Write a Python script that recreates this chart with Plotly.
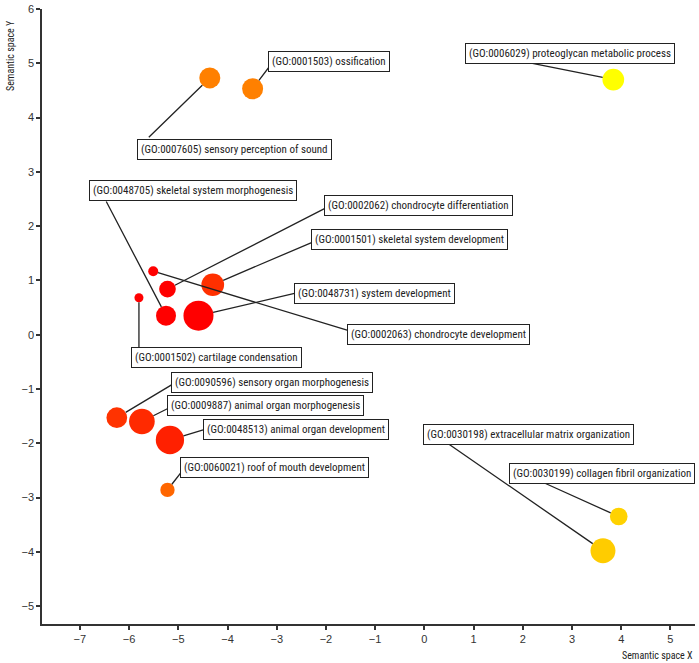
import plotly.graph_objects as go

# ---- data (REVIGO-style semantic space) ----
go_ids = ["GO:0001503", "GO:0007605", "GO:0006029", "GO:0048705", "GO:0002062",
          "GO:0001501", "GO:0048731", "GO:0002063", "GO:0001502", "GO:0090596",
          "GO:0009887", "GO:0048513", "GO:0060021", "GO:0030198", "GO:0030199"]
terms = ["ossification", "sensory perception of sound", "proteoglycan metabolic process",
         "skeletal system morphogenesis", "chondrocyte differentiation",
         "skeletal system development", "system development", "chondrocyte development",
         "cartilage condensation", "sensory organ morphogenesis", "animal organ morphogenesis",
         "animal organ development", "roof of mouth development",
         "extracellular matrix organization", "collagen fibril organization"]
sem_x = [-3.49, -4.36, 3.84, -5.25, -5.22, -4.30, -4.59, -5.51, -5.80, -6.25, -5.74, -5.17, -5.22, 3.63, 3.95]
sem_y = [4.53, 4.73, 4.70, 0.35, 0.84, 0.92, 0.35, 1.17, 0.68, -1.53, -1.60, -1.94, -2.86, -3.98, -3.35]
log_size = [3.00, 3.00, 3.08, 2.89, 2.52, 3.19, 4.00, 1.78, 1.67, 2.97, 3.52, 3.81, 2.26, 3.44, 2.63]
log10_pvalue = [-6.49, -6.49, -3.00, -10.5, -10.2, -8.68, -11.0, -10.1, -10.3, -8.60, -8.85, -9.12, -7.20, -4.40, -4.24]

# label box centres and connector attachment points (layout, data coordinates)
label_x = [-1.93, -3.86, 2.95, -4.70, -0.12, -0.30, -1.01, 0.29, -4.23, -3.10, -3.22, -2.61, -3.05, 2.12, 3.62]
label_y = [5.03, 3.41, 5.18, 2.65, 2.38, 1.76, 0.76, 0.01, -0.42, -0.88, -1.30, -1.74, -2.44, -1.83, -2.55]
link_x = [-3.09, -5.63, 2.14, -6.48, -1.93, -2.13, -2.50, -1.49, -5.80, -4.98, -5.08, -4.38, -4.86, 0.47, 2.41]
link_y = [5.01, 3.61, 5.01, 2.48, 2.37, 1.76, 0.79, 0.06, -0.26, -0.84, -1.30, -1.72, -2.44, -2.00, -2.72]

x_ticks = list(range(-7, 6))
y_ticks = list(range(-5, 7))

diam = [9 * s - 6 for s in log_size]

LABEL_FONT = "Liberation Sans Narrow, Roboto Condensed, Roboto, sans-serif"
TICK_FONT = "Liberation Sans, Arial, sans-serif"

fig = go.Figure()
fig.add_trace(go.Scatter(
    x=sem_x, y=sem_y, mode="markers",
    marker=dict(size=diam, sizemode="diameter",
                color=log10_pvalue, cmin=-10, cmax=-3,
                colorscale=[[0, "#ff0000"], [1, "#ffff00"]],
                line=dict(width=0), opacity=1),
    text=[f"({g}) {t}" for g, t in zip(go_ids, terms)],
    hoverinfo="text", showlegend=False, cliponaxis=False))

annotations = []
for i in range(len(terms)):
    annotations.append(dict(
        x=sem_x[i], y=sem_y[i], ax=link_x[i], ay=link_y[i],
        xref="x", yref="y", axref="x", ayref="y",
        text="", showarrow=True, arrowhead=0, arrowwidth=1.3,
        arrowcolor="#222222", standoff=diam[i] / 2))
for i in range(len(terms)):
    annotations.append(dict(
        x=label_x[i], y=label_y[i], xref="x", yref="y",
        text=f"({go_ids[i]}) {terms[i]}", showarrow=False,
        xanchor="center", yanchor="middle",
        font=dict(family=LABEL_FONT, size=11, color="#222222"),
        bgcolor="white", bordercolor="#222222", borderwidth=1, borderpad=3))

annotations.append(dict(
    x=1, y=0, xref="paper", yref="paper", xanchor="right", yanchor="middle",
    yshift=-31, text="Semantic space X", showarrow=False,
    font=dict(family=LABEL_FONT, size=10, color="#222222")))
annotations.append(dict(
    x=0, y=1, xref="paper", yref="paper", xanchor="center", yanchor="middle",
    xshift=-32, yshift=-47, textangle=-90, text="Semantic space Y", showarrow=False,
    font=dict(family=LABEL_FONT, size=10, color="#222222")))

axis_common = dict(showgrid=False, zeroline=False, showline=True, linecolor="#333333",
                   linewidth=1.5, ticks="outside", ticklen=4, tickwidth=1.5, tickcolor="#333333",
                   tickfont=dict(family=TICK_FONT, size=11, color="#333333"))

fig.update_layout(
    width=699, height=663,
    margin=dict(l=42, r=4, t=9, b=39),
    paper_bgcolor="white", plot_bgcolor="white",
    xaxis=dict(range=[-7.77, 5.5], tickvals=x_ticks, ticktext=[str(v).replace("-", "−") for v in x_ticks], **axis_common),
    yaxis=dict(range=[-5.33, 6.0], tickvals=y_ticks, ticktext=[str(v).replace("-", "−") for v in y_ticks], **axis_common),
    annotations=annotations,
)

fig.write_html("out.html")
